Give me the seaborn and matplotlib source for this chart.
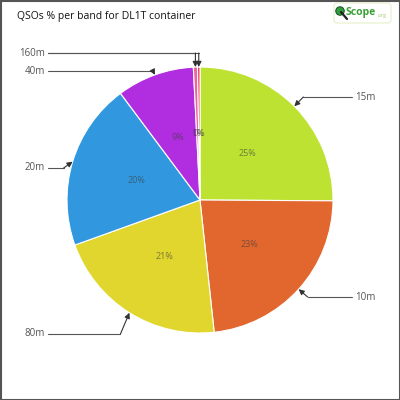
import numpy as np
import matplotlib
matplotlib.use('Agg')
import matplotlib.pyplot as plt
import seaborn as sns
from matplotlib.patches import Rectangle, FancyBboxPatch, Circle

# data (clockwise from 12 o'clock)
bands = ["15m", "10m", "80m", "20m", "40m", "160m", "6m"]
share = [25.1, 23.2, 21.2, 20.3, 9.4, 0.5, 0.3]
pct_text = ["25%", "23%", "21%", "20%", "9%", "1%", "0%"]
show_band = [True, True, True, True, True, True, False]
colors = ["#bde232", "#e2672f", "#e0d62d", "#3198df", "#b02ee0", "#f0649e", "#e82c5c"]

# label placement (pixels from top) and side
label_y = [97, 297, 334, 168, 71, 53, 53]
label_side = [1, 1, -1, -1, -1, -1, -1]
elbow_off = [9, 9, 9, 9, 2, 0, 0]

sns.set_style("white")
plt.rcParams['font.family'] = ['Open Sans', 'DejaVu Sans']

fig = plt.figure(figsize=(4, 4), dpi=100)
ax = fig.add_axes([0, 0, 1, 1])

cx, cy, R = 200, 200, 133
wedges, _ = ax.pie(share, colors=colors, startangle=90, counterclock=False,
                   radius=R, center=(cx, cy), frame=True,
                   wedgeprops=dict(edgecolor='white', linewidth=0.8))
ax.set_xlim(0, 400)
ax.set_ylim(0, 400)
ax.set_aspect('equal')
ax.axis('off')

for i, w in enumerate(wedges):
    mid = np.deg2rad((w.theta1 + w.theta2) / 2)
    # percentage inside the slice
    ax.text(cx + 0.5 * R * np.cos(mid), cy + 0.5 * R * np.sin(mid), pct_text[i],
            ha='center', va='center', fontsize=6.5, color='#3a3a3a', alpha=0.6)
    # connector: text -> elbow -> arrow to slice edge
    tx, ty = cx + R * np.cos(mid), cy + R * np.sin(mid)
    ly = 400 - label_y[i]
    ex = tx + label_side[i] * elbow_off[i]
    lx = 352 if label_side[i] > 0 else 48
    ax.plot([lx, ex], [ly, ly], color='#555555', lw=0.8)
    ax.annotate("", xy=(tx, ty), xytext=(ex, ly),
                arrowprops=dict(arrowstyle='-|>', color='#333333', lw=0.8,
                                mutation_scale=8, shrinkA=0, shrinkB=0))
    if show_band[i]:
        ax.text(lx + label_side[i] * 3, ly, bands[i], fontsize=7, color='#555555',
                ha='left' if label_side[i] > 0 else 'right', va='center')

# title
fig.text(17 / 400, 1 - 17 / 400, "QSOs % per band for DL1T container",
         fontsize=7.5, color='#111111', ha='left', va='center')

# logo
ax.add_patch(FancyBboxPatch((334, 377), 57, 20, boxstyle="round,pad=0,rounding_size=3",
                            facecolor='white', edgecolor='#e6f0c8', lw=0.8))
ax.plot([341, 347], [388, 381], color='#222222', lw=1.6, solid_capstyle='round')
ax.add_patch(Circle((340, 389), 4.2, facecolor='#2e9e3e', edgecolor='#1d5a22', lw=0.8))
ax.text(346, 388, "Scope", fontsize=7.5, fontweight='bold', color='#3aa035',
        ha='left', va='center')
ax.text(377.5, 384, ".org", fontsize=3.5, color='#9acd70', ha='left', va='center')

# outer frame
ax.add_patch(Rectangle((0.5, 0.5), 399, 399, fill=False, edgecolor='#555555', lw=1.5))

fig.savefig("out.png", dpi=100)
